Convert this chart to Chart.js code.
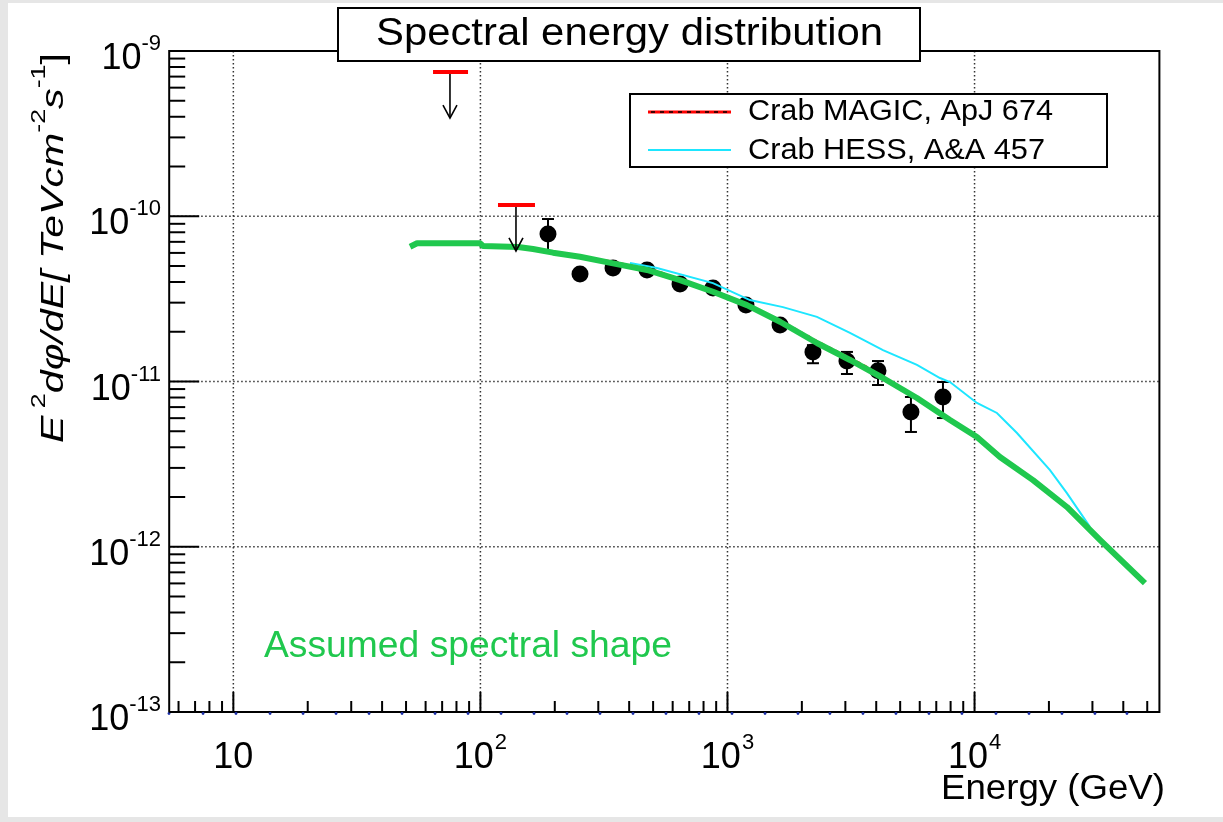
<!DOCTYPE html>
<html><head><meta charset="utf-8">
<script src="https://cdn.jsdelivr.net/npm/chart.js@4/dist/chart.umd.min.js"></script>
<style>
html,body{margin:0;padding:0;background:#e6e6e6;width:1223px;height:822px;overflow:hidden}
#wrap{position:absolute;left:8px;top:3px;width:1215px;height:814px;background:#fff}
canvas{display:block}
</style></head><body><div id="wrap"><canvas id="c" width="1215" height="814"></canvas></div>
<script>
// ---- data (energies in GeV, E^2 dN/dE in TeV cm^-2 s^-1) ----
const energies    = [187.7, 253.0, 344.1, 472.3, 642.5, 873.6, 1188, 1632, 2218, 3045, 4067, 5528, 7450];
const flux        = [7.81e-11, 4.47e-11, 4.86e-11, 4.73e-11, 3.89e-11, 3.68e-11, 2.90e-11, 2.20e-11, 1.51e-11, 1.33e-11, 1.16e-11, 6.54e-12, 8.06e-12];
const fluxErrHigh = [9.62e-11, 4.70e-11, 5.10e-11, 5.00e-11, 4.10e-11, 3.90e-11, 3.10e-11, 2.35e-11, 1.66e-11, 1.51e-11, 1.33e-11, 8.06e-12, 9.93e-12];
const fluxErrLow  = [6.08e-11, 4.25e-11, 4.60e-11, 4.50e-11, 3.70e-11, 3.50e-11, 2.75e-11, 2.05e-11, 1.29e-11, 1.11e-11, 9.52e-12, 4.95e-12, 6.01e-12];

const ulEnergy     = [75.3, 139.3];
const ulEnergyLow  = [64.3, 117.8];
const ulEnergyHigh = [89.1, 166.3];
const ulFlux       = [7.46e-10, 1.17e-10];

const assumedE = [51.9, 55.4, 99.6, 102.5, 142.0, 163.3, 196.7, 253.0, 344.1, 472.3, 642.5, 873.6, 1199, 1632, 2302, 3132, 4260, 5847, 7953, 10226, 12670, 17240, 23650, 32170, 48940];
const assumedF = [6.54e-11, 6.86e-11, 6.86e-11, 6.60e-11, 6.52e-11, 6.33e-11, 6.02e-11, 5.69e-11, 5.19e-11, 4.73e-11, 4.11e-11, 3.49e-11, 2.90e-11, 2.30e-11, 1.71e-11, 1.35e-11, 1.05e-11, 7.95e-12, 5.85e-12, 4.61e-12, 3.49e-12, 2.53e-12, 1.74e-12, 1.10e-12, 6.03e-13];

const hessE = [403.1, 518.4, 873.6, 1233, 1677, 2302, 3132, 4260, 5847, 7244, 7953, 10226, 12320, 14850, 20200, 23650, 29310];
const hessF = [5.21e-11, 4.86e-11, 3.94e-11, 3.11e-11, 2.82e-11, 2.46e-11, 1.97e-11, 1.55e-11, 1.26e-11, 1.05e-11, 9.93e-12, 7.41e-12, 6.45e-12, 4.88e-12, 2.91e-12, 2.11e-12, 1.32e-12];

const magicE = [277.7, 344.1, 518.4, 995.4, 1632, 2302, 3438, 4260];
const magicF = [5.55e-11, 5.30e-11, 4.65e-11, 3.30e-11, 2.35e-11, 1.75e-11, 1.29e-11, 1.07e-11];

const binEdgesE = [5.49, 7.54, 10.25, 14.08, 19.15, 26.04, 35.42, 48.17, 65.52, 89.1, 121.2, 164.8, 224.1, 304.8, 414.6, 563.8, 766.8, 1043, 1419, 1929, 2598, 3535, 4808, 6539, 8892, 12210, 16610, 22580, 30710, 41380];

// ---- axes ----
const xMin = 5.5, xMax = 56000, yMin = 1e-13, yMax = 1e-9;
const xMajorTicks = [10, 100, 1000, 10000];
const xTickLabels = [['10', ''], ['10', '2'], ['10', '3'], ['10', '4']];
const yMajorTicks = [1e-13, 1e-12, 1e-11, 1e-10, 1e-9];
const yTickLabels = [['10', '-13'], ['10', '-12'], ['10', '-11'], ['10', '-10'], ['10', '-9']];
const xGridValues = [10, 100, 1000, 10000];
const yGridValues = [1e-12, 1e-11, 1e-10];
const minorMultipliers = [2, 3, 4, 5, 6, 7, 8, 9];
const xDecades = [1, 10, 100, 1000, 10000];
const yDecades = [1e-13, 1e-12, 1e-11, 1e-10];

const titleText = 'Spectral energy distribution';
const legendLabels = ['Crab MAGIC, ApJ 674', 'Crab HESS, A&A 457'];
const annotationText = 'Assumed spectral shape';
const xTitle = 'Energy (GeV)';

const FONT = '"Liberation Sans", Arial, Helvetica, sans-serif';
const GREEN = '#20c84e';
const CYAN = '#1de6ff';

function pts(xa, ya) { return xa.map((x, i) => ({x: x, y: ya[i]})); }

function txt(ctx, s, x, y, size, align, width, style) {
  ctx.save();
  ctx.font = (style || '') + ' ' + size + 'px ' + FONT;
  const m = ctx.measureText(s).width;
  const sx = width ? width / m : 1;
  ctx.translate(x, y);
  ctx.scale(sx, 1);
  ctx.textAlign = align;
  ctx.textBaseline = 'alphabetic';
  ctx.fillText(s, 0, 0);
  ctx.restore();
}
function line(ctx, x1, y1, x2, y2) { ctx.beginPath(); ctx.moveTo(x1, y1); ctx.lineTo(x2, y2); ctx.stroke(); }

const rootPlugin = {
  id: 'rootStyle',
  beforeDatasetsDraw(chart) {
    const ctx = chart.ctx, xs = chart.scales.x, ys = chart.scales.y, a = chart.chartArea;
    ctx.save();
    ctx.strokeStyle = '#333'; ctx.lineWidth = 1.5; ctx.setLineDash([1.5, 2.5]);
    xGridValues.forEach(v => { const p = xs.getPixelForValue(v); line(ctx, p, a.top, p, a.bottom); });
    yGridValues.forEach(v => { const p = ys.getPixelForValue(v); line(ctx, a.left, p, a.right, p); });
    ctx.setLineDash([]);
    // error bars
    ctx.strokeStyle = '#000'; ctx.lineWidth = 2;
    energies.forEach((e, i) => {
      const px = xs.getPixelForValue(e), hi = ys.getPixelForValue(fluxErrHigh[i]), lo = ys.getPixelForValue(fluxErrLow[i]);
      line(ctx, px, hi, px, lo);
      line(ctx, px - 6, hi, px + 6, hi);
      line(ctx, px - 6, lo, px + 6, lo);
    });
    ctx.restore();
  },
  afterDatasetsDraw(chart) {
    const ctx = chart.ctx, xs = chart.scales.x, ys = chart.scales.y, a = chart.chartArea;
    ctx.save();
    // upper limits
    ulEnergy.forEach((e, i) => {
      const py = ys.getPixelForValue(ulFlux[i]);
      const px = xs.getPixelForValue(e);
      ctx.strokeStyle = '#000'; ctx.lineWidth = 1.6;
      line(ctx, px, py, px, py + 46);
      ctx.beginPath(); ctx.moveTo(px - 7, py + 33); ctx.lineTo(px, py + 46); ctx.lineTo(px + 7, py + 33); ctx.stroke();
      ctx.strokeStyle = '#ff0000'; ctx.lineWidth = 4;
      line(ctx, xs.getPixelForValue(ulEnergyLow[i]), py, xs.getPixelForValue(ulEnergyHigh[i]), py);
    });
    // frame
    ctx.strokeStyle = '#000'; ctx.lineWidth = 2;
    ctx.strokeRect(a.left, a.top, a.right - a.left, a.bottom - a.top);
    // bin markers along the bottom axis
    ctx.fillStyle = '#1c2fa8';
    binEdgesE.forEach(e => { const p = xs.getPixelForValue(e); ctx.beginPath(); ctx.arc(p, a.bottom + 1.5, 1.4, 0, Math.PI * 2); ctx.fill(); });
    // ticks
    yMajorTicks.forEach(v => { const p = ys.getPixelForValue(v); line(ctx, a.left, p, a.left + 30, p); });
    yDecades.forEach(d => minorMultipliers.forEach(m => {
      const v = d * m; if (v <= yMin || v >= yMax) return;
      const p = ys.getPixelForValue(v); line(ctx, a.left, p, a.left + 16, p);
    }));
    xMajorTicks.forEach(v => { const p = xs.getPixelForValue(v); line(ctx, p, a.bottom, p, a.bottom - 20); });
    xDecades.forEach(d => minorMultipliers.forEach(m => {
      const v = d * m; if (v <= xMin || v >= xMax) return;
      const p = xs.getPixelForValue(v); line(ctx, p, a.bottom, p, a.bottom - 11);
    }));
    // tick labels
    ctx.fillStyle = '#000';
    const big = 36, sup = 22;
    yMajorTicks.forEach((v, i) => {
      const p = ys.getPixelForValue(v);
      ctx.font = big + 'px ' + FONT; const w1 = ctx.measureText(yTickLabels[i][0]).width;
      ctx.font = sup + 'px ' + FONT; const w2 = ctx.measureText(yTickLabels[i][1]).width;
      const right = 153;
      txt(ctx, yTickLabels[i][0], right - w2 - w1, p + 18, big, 'left');
      txt(ctx, yTickLabels[i][1], right - w2, p - 1, sup, 'left');
    });
    xMajorTicks.forEach((v, i) => {
      const p = xs.getPixelForValue(v);
      ctx.font = big + 'px ' + FONT; const w1 = ctx.measureText(xTickLabels[i][0]).width;
      ctx.font = sup + 'px ' + FONT; const w2 = xTickLabels[i][1] ? ctx.measureText(xTickLabels[i][1]).width + 1 : 0;
      const left = p - (w1 + w2) / 2;
      txt(ctx, xTickLabels[i][0], left, 765, big, 'left');
      if (xTickLabels[i][1]) txt(ctx, xTickLabels[i][1], left + w1 + 1, 746, sup, 'left');
    });
    // axis titles
    txt(ctx, xTitle, 1157, 796, 35, 'right', 224);
    // y title, rotated
    const pieces = [
      {t: 'E', s: 32, it: true, up: 0},
      {t: ' 2', s: 21, it: false, up: 18},
      {t: 'd\u03C6/dE[ TeVcm', s: 32, it: true, up: 0},
      {t: '-2', s: 21, it: false, up: 18},
      {t: 's', s: 32, it: true, up: 0},
      {t: '-1', s: 21, it: false, up: 18},
      {t: ']', s: 32, it: false, up: 0}
    ];
    let total = 0;
    pieces.forEach(pc => { ctx.font = (pc.it ? 'italic ' : '') + pc.s + 'px ' + FONT; pc.w = ctx.measureText(pc.t).width; total += pc.w; });
    ctx.save();
    ctx.translate(55, 440);
    ctx.rotate(-Math.PI / 2);
    ctx.scale(390 / total, 1);
    let cx = 0;
    pieces.forEach(pc => {
      ctx.font = (pc.it ? 'italic ' : '') + pc.s + 'px ' + FONT;
      ctx.textAlign = 'left'; ctx.fillText(pc.t, cx, -pc.up); cx += pc.w;
    });
    ctx.restore();
    // annotation
    ctx.fillStyle = GREEN;
    txt(ctx, annotationText, 256, 654, 37, 'left', 408);
    // title box
    ctx.fillStyle = '#fff'; ctx.fillRect(330, 5, 582, 53);
    ctx.strokeStyle = '#000'; ctx.lineWidth = 2; ctx.strokeRect(330, 5, 582, 53);
    ctx.fillStyle = '#000';
    txt(ctx, titleText, 368, 42, 38, 'left', 507);
    // legend
    ctx.fillStyle = '#fff'; ctx.fillRect(622, 91, 477, 73);
    ctx.strokeStyle = '#000'; ctx.lineWidth = 2; ctx.strokeRect(622, 91, 477, 73);
    ctx.strokeStyle = '#ff0000'; ctx.lineWidth = 3; line(ctx, 640, 109, 723, 109);
    ctx.strokeStyle = '#000'; ctx.lineWidth = 1.5; ctx.setLineDash([4, 5]); line(ctx, 643, 109, 723, 109); ctx.setLineDash([]);
    ctx.strokeStyle = CYAN; ctx.lineWidth = 2; line(ctx, 640, 147, 723, 147);
    ctx.fillStyle = '#000';
    txt(ctx, legendLabels[0], 740, 117, 30, 'left', 305);
    txt(ctx, legendLabels[1], 740, 155.5, 30, 'left', 297);
    ctx.restore();
  }
};

new Chart(document.getElementById('c'), {
  type: 'scatter',
  data: {
    datasets: [
      {label: 'Assumed', data: pts(assumedE, assumedF), showLine: true, borderColor: GREEN, borderWidth: 6, pointRadius: 0, order: 0, borderJoinStyle: 'round'},
      {label: legendLabels[0], data: pts(magicE, magicF), showLine: true, borderColor: '#ff0000', borderWidth: 2.5, borderDash: [4, 4], pointRadius: 0, order: 1},
      {label: legendLabels[1], data: pts(hessE, hessF), showLine: true, borderColor: CYAN, borderWidth: 2, pointRadius: 0, order: 2},
      {label: 'data', data: pts(energies, flux), showLine: false, pointRadius: 8.5, pointBackgroundColor: '#000', pointBorderColor: '#000', pointBorderWidth: 0, order: 3}
    ]
  },
  options: {
    responsive: false, animation: false, devicePixelRatio: 1,
    layout: {padding: {left: 161.2, top: 48, right: 63.6, bottom: 105}},
    plugins: {legend: {display: false}, title: {display: false}, tooltip: {enabled: false}},
    scales: {
      x: {type: 'logarithmic', min: xMin, max: xMax, display: false},
      y: {type: 'logarithmic', min: yMin, max: yMax, display: false}
    }
  },
  plugins: [rootPlugin]
});
</script></body></html>
